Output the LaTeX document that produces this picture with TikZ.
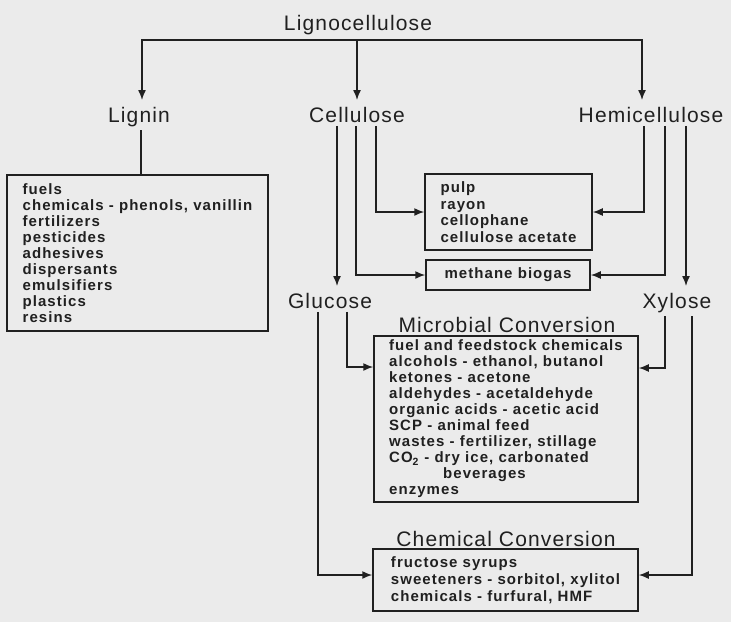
\documentclass[tikz,border=0pt]{standalone}
\usepackage{fontspec}
\setmainfont{Liberation Sans}
\newfontfamily\labfont[LetterSpace=5.5]{Liberation Sans}
\newfontfamily\listfont[LetterSpace=7]{Liberation Sans}
\usetikzlibrary{arrows.meta}
\definecolor{ink}{HTML}{202020}
\definecolor{paper}{HTML}{EBEBEB}

\begin{document}
\begin{tikzpicture}[x=1pt, y=-1pt, >={Latex[length=10pt, width=8pt]}, line width=1.5pt,
    lab/.style={anchor=base, text=ink, inner sep=3pt, font=\labfont\fontsize{21}{24}\selectfont},
    prod/.style={draw=ink, align=left, text=ink, inner sep=0pt, font=\listfont\bfseries\fontsize{15}{#1}\selectfont},
    prod/.default=16]

  \fill[paper] (0,0) rectangle (731,622);
  \useasboundingbox (0,0) rectangle (731,622);

  % raw material and its fractions
  \node[lab] (lc)   at (358,30)  {Lignocellulose};
  \node[lab] (lig)  at (139,122) {Lignin};
  \node[lab] (cel)  at (357,122) {Cellulose};
  \node[lab] (hemi) at (651,122) {Hemicellulose};
  \node[lab] (glu)  at (330,308) {Glucose};
  \node[lab] (xyl)  at (677,308) {Xylose};

  % products
  \node[prod, minimum width=261pt, minimum height=156pt] (ligbox) at (137.5,253)
    {fuels\\chemicals - phenols, vanillin\\fertilizers\\pesticides\\adhesives\\dispersants\\emulsifiers\\plastics\\resins};
  \node[prod=16.5, minimum width=167pt, minimum height=76pt] (pulp) at (508.5,212)
    {pulp\\rayon\\cellophane\\cellulose acetate};
  \node[prod, minimum width=164pt, minimum height=30pt] (biogas) at (508,275) {methane biogas};
  \node[prod, minimum width=264pt, minimum height=166pt] (micro) at (506,419)
    {fuel and feedstock chemicals\\alcohols - ethanol, butanol\\ketones - acetone\\aldehydes - acetaldehyde\\organic acids - acetic acid\\SCP - animal feed\\wastes - fertilizer, stillage\\CO\textsubscript{2} - dry ice, carbonated\\\hspace*{54pt}beverages\\enzymes};
  \node[prod=17, minimum width=265pt, minimum height=62pt] (chem) at (505.5,580)
    {fructose syrups\\sweeteners - sorbitol, xylitol\\chemicals - furfural, HMF};
  \node[lab] (microlab) at (507,332) {Microbial Conversion};
  \node[lab] (chemlab)  at (506,546) {Chemical Conversion};

  % fractionation
  \coordinate (split) at ([yshift=-2pt]lc.south);
  \draw[<->, ink, shorten <=3pt, shorten >=3pt] ([xshift=3pt]lig.north) |- (split) -| ([xshift=-9pt]hemi.north);
  \draw[->, ink, shorten >=3pt] (split -| cel.north) -- (cel.north);
  \draw[ink] ([xshift=2pt]lig.south) -- ([xshift=2pt]lig.south |- ligbox.north);

  % cellulose routes
  \draw[->, ink] ([xshift=19pt]cel.south) |- (pulp.west);
  \draw[->, ink] ([xshift=-1pt]cel.south) |- (biogas.west);
  \draw[->, ink, shorten >=3pt] ([xshift=-20pt]cel.south) -- ([xshift=-20pt]cel.south |- glu.north);

  % hemicellulose routes
  \draw[->, ink] ([xshift=-7pt]hemi.south) |- (pulp.east);
  \draw[->, ink] ([xshift=14pt]hemi.south) |- (biogas.east);
  \draw[->, ink, shorten >=3pt] ([xshift=35pt]hemi.south) -- ([xshift=35pt]hemi.south |- xyl.north);

  % sugars to conversions
  \draw[->, ink] ([xshift=17pt]glu.south) |- ([yshift=52pt]micro.west);
  \draw[->, ink] ([xshift=-12pt]glu.south) |- ([yshift=5pt]chem.west);
  \draw[->, ink] ([xshift=-12pt]xyl.south) |- ([yshift=51pt]micro.east);
  \draw[->, ink] ([xshift=15pt]xyl.south) |- ([yshift=5pt]chem.east);
\end{tikzpicture}
\end{document}
